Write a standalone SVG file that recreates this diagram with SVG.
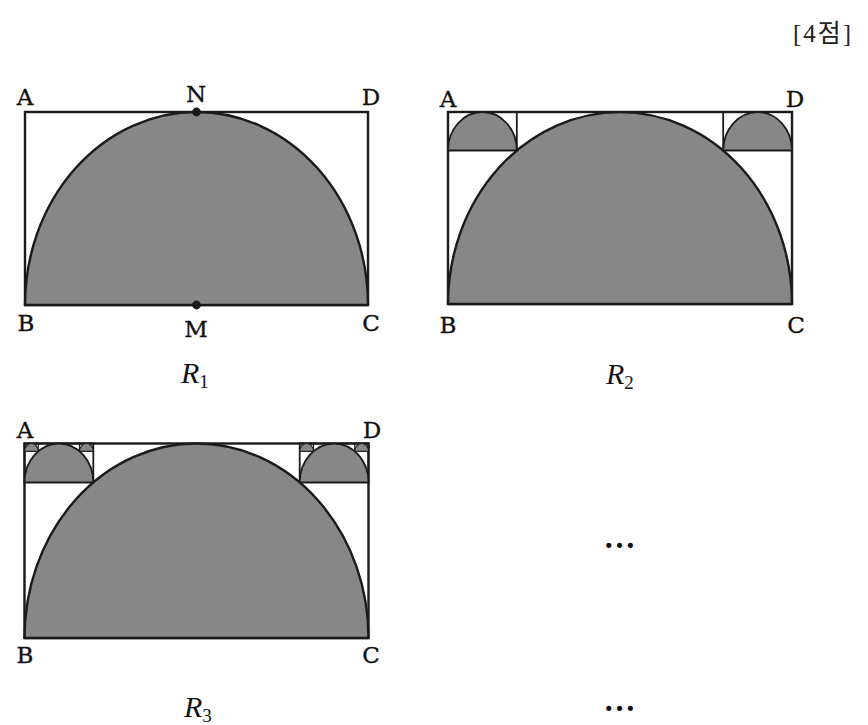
<svg xmlns="http://www.w3.org/2000/svg" width="868" height="725" viewBox="0 0 868 725">
<style>
.bg{fill:#ffffff}
.frame{fill:none;stroke:#1a1a1a;stroke-width:2.4}
.semi{fill:#878787;stroke:#1a1a1a;stroke-width:2.4;stroke-linejoin:round}
.frame2{fill:none;stroke:#1a1a1a;stroke-width:1.8}
.semi2{fill:#878787;stroke:#1a1a1a;stroke-width:1.8}
.frame3{fill:none;stroke:#1a1a1a;stroke-width:1.3}
.semi3{fill:#878787;stroke:#1a1a1a;stroke-width:1.1}
.lbl{font-family:"DejaVu Serif","Liberation Serif",serif;font-size:23px;fill:#111;stroke:#111;stroke-width:0.35;text-anchor:middle}
.rl{font-family:"Liberation Serif","DejaVu Serif",serif;font-style:italic;font-size:30px;fill:#111}
.sub{font-style:normal;font-size:19px}
.pt{fill:#1a1a1a}
.dots{font-family:"Liberation Serif",serif;font-size:32px;font-weight:bold;fill:#111;text-anchor:middle}
.hdr{font-family:"Liberation Serif","Noto Sans CJK KR",serif;font-size:25px;fill:#222;letter-spacing:2px}
</style>
<rect class="bg" x="0" y="0" width="868" height="725"/>
<text class="hdr" x="793" y="42">[4점]</text>

<g id="figure-R1">
  <rect class="frame" x="25" y="112" width="343" height="193"/>
  <path class="semi" d="M25,305 A171.5,193 0 0 1 368,305 Z"/>
  <circle class="pt" cx="196.5" cy="112" r="4.4"/>
  <circle class="pt" cx="196.5" cy="305" r="4.4"/>
  <text class="lbl" x="25" y="105">A</text>
  <text class="lbl" x="196" y="102">N</text>
  <text class="lbl" x="371" y="105">D</text>
  <text class="lbl" x="26" y="331">B</text>
  <text class="lbl" x="196" y="337">M</text>
  <text class="lbl" x="371" y="331">C</text>
  <text class="rl" x="181" y="383">R<tspan class="sub" dy="5">1</tspan></text>
</g>

<g id="figure-R2">
  <rect class="frame" x="448" y="112" width="344" height="192"/>
  <path class="semi" d="M448,304 A172,192 0 0 1 792,304 Z"/>
  <rect class="frame2" x="448" y="112" width="68.8" height="38.4"/>
  <path class="semi2" d="M448,150.4 A34.4,38.4 0 0 1 516.8,150.4 Z"/>
  <rect class="frame2" x="723.2" y="112" width="68.8" height="38.4"/>
  <path class="semi2" d="M723.2,150.4 A34.4,38.4 0 0 1 792,150.4 Z"/>
  <text class="lbl" x="448" y="107">A</text>
  <text class="lbl" x="795" y="107">D</text>
  <text class="lbl" x="448" y="333">B</text>
  <text class="lbl" x="796" y="333">C</text>
  <text class="rl" x="606" y="384">R<tspan class="sub" dy="5">2</tspan></text>
</g>

<g id="figure-R3">
  <rect class="frame" x="24.5" y="443.5" width="344" height="194.5"/>
  <path class="semi" d="M24.5,638 A172,194.5 0 0 1 368.5,638 Z"/>
  <rect class="frame2" x="24.5" y="443.5" width="68.8" height="38.9"/>
  <path class="semi2" d="M24.5,482.4 A34.4,38.9 0 0 1 93.3,482.4 Z"/>
  <rect class="frame2" x="299.7" y="443.5" width="68.8" height="38.9"/>
  <path class="semi2" d="M299.7,482.4 A34.4,38.9 0 0 1 368.5,482.4 Z"/>
  <rect class="frame3" x="24.5" y="443.5" width="13.76" height="7.78"/>
  <path class="semi3" d="M24.5,451.28 A6.88,7.78 0 0 1 38.26,451.28 Z"/>
  <rect class="frame3" x="79.54" y="443.5" width="13.76" height="7.78"/>
  <path class="semi3" d="M79.54,451.28 A6.88,7.78 0 0 1 93.3,451.28 Z"/>
  <rect class="frame3" x="299.7" y="443.5" width="13.76" height="7.78"/>
  <path class="semi3" d="M299.7,451.28 A6.88,7.78 0 0 1 313.46,451.28 Z"/>
  <rect class="frame3" x="354.74" y="443.5" width="13.76" height="7.78"/>
  <path class="semi3" d="M354.74,451.28 A6.88,7.78 0 0 1 368.5,451.28 Z"/>
  <text class="lbl" x="25" y="438">A</text>
  <text class="lbl" x="372" y="438">D</text>
  <text class="lbl" x="25" y="663">B</text>
  <text class="lbl" x="371" y="663">C</text>
  <text class="rl" x="184" y="717">R<tspan class="sub" dy="5">3</tspan></text>
</g>

<g id="ellipses">
  <text class="dots" x="619.5" y="548">…</text>
  <text class="dots" x="619.5" y="711">…</text>
</g>
</svg>
